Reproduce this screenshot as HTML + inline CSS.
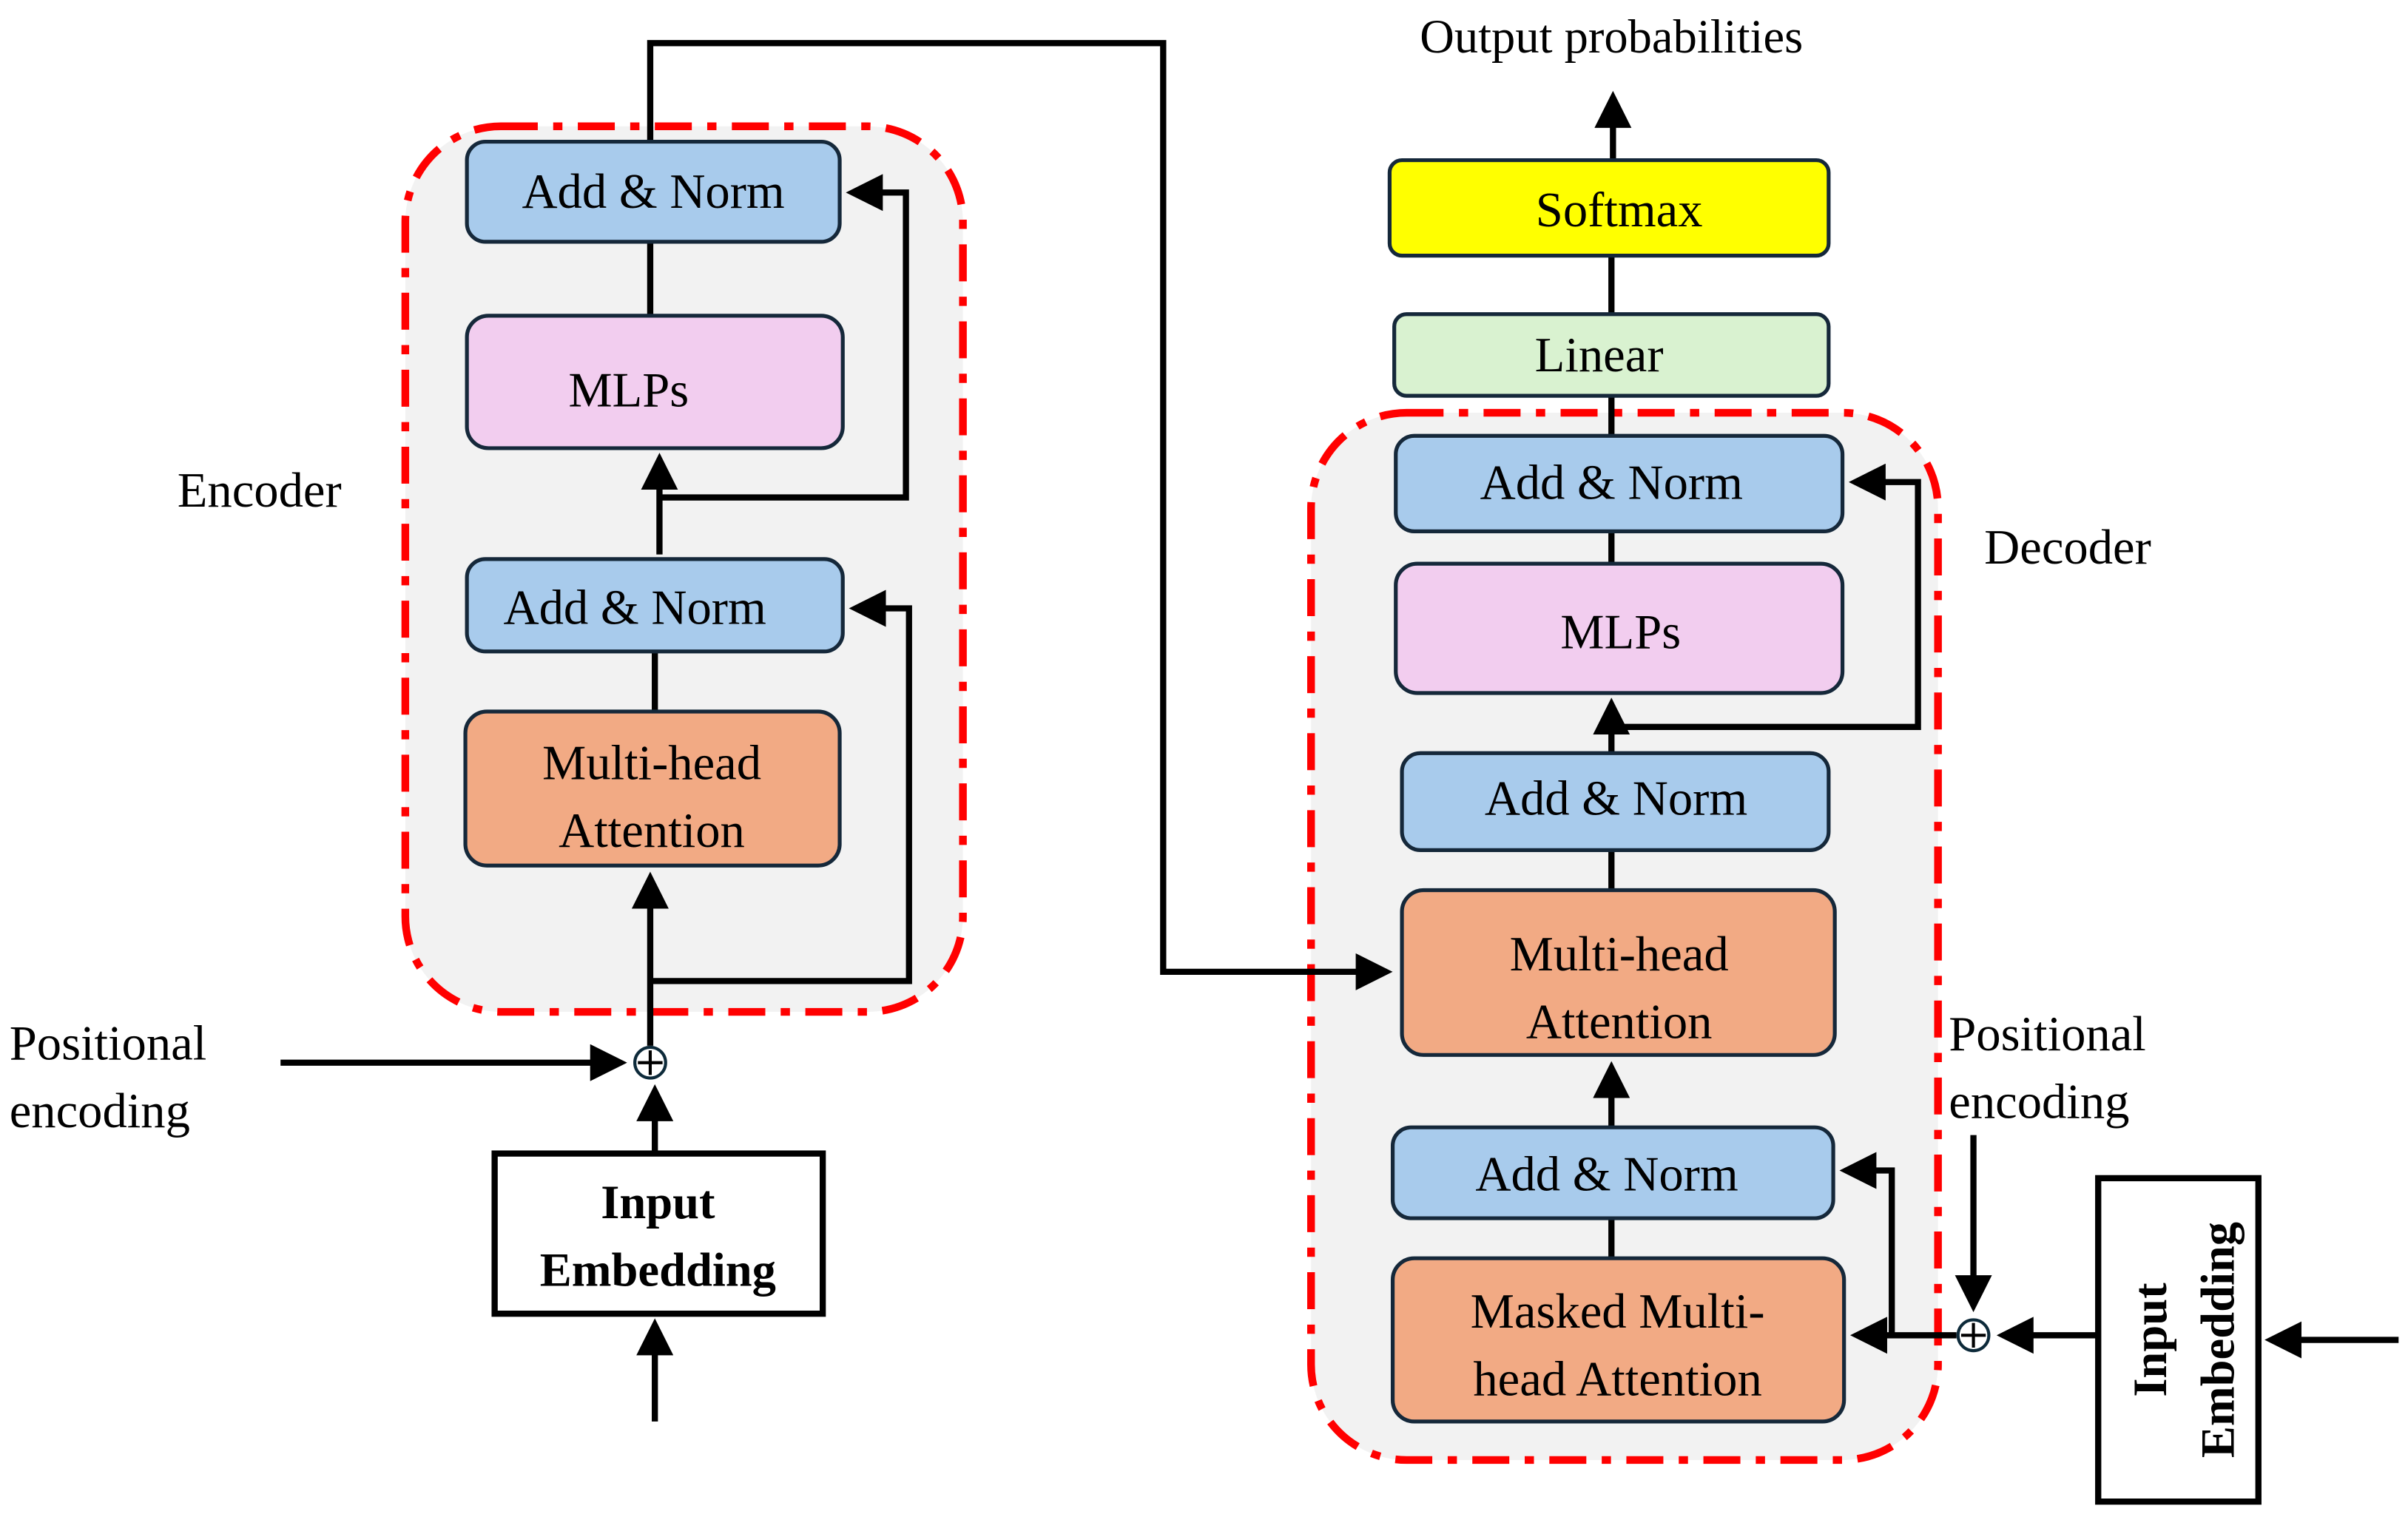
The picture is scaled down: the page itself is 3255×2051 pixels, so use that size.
<!DOCTYPE html>
<html><head><meta charset="utf-8"><style>html,body{margin:0;padding:0;background:#fff}svg{display:block}</style></head>
<body>
<svg width="3255" height="2051" viewBox="0 0 1563 985" xmlns="http://www.w3.org/2000/svg" font-family="'Liberation Serif', serif">
<defs>
<marker id="a" markerWidth="6" markerHeight="6" refX="5" refY="3" orient="auto" markerUnits="strokeWidth">
<path d="M0,0 L6,3 L0,6 Z" fill="#000"/></marker>
</defs>
<rect width="1563" height="985" fill="#fff"/>
<!-- containers -->
<rect x="263" y="82" width="362" height="575" rx="62" fill="#f2f2f2" stroke="#ff0000" stroke-width="5" stroke-dasharray="24,10,6,10"/>
<rect x="851" y="268" width="407" height="680" rx="62" fill="#f2f2f2" stroke="#ff0000" stroke-width="5" stroke-dasharray="24,10,6,10"/>

<g stroke="#000" stroke-width="4" fill="none">
<!-- encoder lines -->
<path d="M422,92 L422,28 L755,28 L755,631 L900,631" marker-end="url(#a)"/>
<path d="M422,157 L422,205"/>
<path d="M428,360 L428,298" marker-end="url(#a)"/>
<path d="M428,323 L588,323 L588,125 L553,125" marker-end="url(#a)"/>
<path d="M425,423 L425,462"/>
<path d="M422,637 L590,637 L590,395 L555,395" marker-end="url(#a)"/>
<path d="M422,679 L422,570" marker-end="url(#a)"/>
<path d="M182,690 L403,690" marker-end="url(#a)"/>
<path d="M425,749 L425,708" marker-end="url(#a)"/>
<path d="M425,923 L425,860" marker-end="url(#a)"/>
<!-- decoder lines -->
<path d="M1047,104 L1047,63" marker-end="url(#a)"/>
<path d="M1046,166 L1046,204"/>
<path d="M1046,257 L1046,283"/>
<path d="M1046,345 L1046,366"/>
<path d="M1046,489 L1046,457" marker-end="url(#a)"/>
<path d="M1046,472 L1245,472 L1245,313 L1204,313" marker-end="url(#a)"/>
<path d="M1046,552 L1046,578"/>
<path d="M1046,732 L1046,693" marker-end="url(#a)"/>
<path d="M1046,791 L1046,817"/>
<path d="M1270,867 L1205,867" marker-end="url(#a)"/>
<path d="M1228,867 L1228,760 L1198,760" marker-end="url(#a)"/>
<path d="M1281,737 L1281,848" marker-end="url(#a)"/>
<path d="M1362,867 L1300,867" marker-end="url(#a)"/>
<path d="M1557,870 L1474,870" marker-end="url(#a)"/>
</g>

<!-- circles -->
<g fill="#fff" stroke="#0d2a3a" stroke-width="2">
<circle cx="422" cy="690" r="10"/><circle cx="1281" cy="867" r="10"/>
</g>
<g stroke="#000" stroke-width="2">
<path d="M414,690 H430 M422,682 V698"/><path d="M1273,867 H1289 M1281,859 V875"/>
</g>

<!-- boxes -->
<g stroke="#15283a" stroke-width="2.5">
<rect x="303" y="92" width="242" height="65" rx="12" fill="#a8cbec"/>
<rect x="303" y="205" width="244" height="86" rx="14" fill="#f2cdef"/>
<rect x="303" y="363" width="244" height="60" rx="12" fill="#a8cbec"/>
<rect x="302" y="462" width="243" height="100" rx="14" fill="#f2aa84"/>
<rect x="902" y="104" width="285" height="62" rx="8" fill="#ffff00"/>
<rect x="905" y="204" width="282" height="53" rx="8" fill="#d9f2d0"/>
<rect x="906" y="283" width="290" height="62" rx="12" fill="#a8cbec"/>
<rect x="906" y="366" width="290" height="84" rx="14" fill="#f2cdef"/>
<rect x="910" y="489" width="277" height="63" rx="12" fill="#a8cbec"/>
<rect x="910" y="578" width="281" height="107" rx="14" fill="#f2aa84"/>
<rect x="904" y="732" width="286" height="59" rx="12" fill="#a8cbec"/>
<rect x="904" y="817" width="293" height="106" rx="14" fill="#f2aa84"/>
</g>
<rect x="321" y="749" width="213" height="104" fill="#fff" stroke="#000" stroke-width="4"/>
<rect x="1362" y="765" width="104" height="210" fill="#fff" stroke="#000" stroke-width="4"/>

<!-- text -->
<g font-size="32" fill="#000" text-anchor="middle">
<text x="424" y="135">Add &amp; Norm</text>
<text x="408" y="264">MLPs</text>
<text x="412" y="405">Add &amp; Norm</text>
<text x="423" y="506">Multi-head</text>
<text x="423" y="550">Attention</text>
<text x="1051" y="147">Softmax</text>
<text x="1038" y="241">Linear</text>
<text x="1046" y="324">Add &amp; Norm</text>
<text x="1052" y="421">MLPs</text>
<text x="1049" y="529">Add &amp; Norm</text>
<text x="1051" y="630">Multi-head</text>
<text x="1051" y="674">Attention</text>
<text x="1043" y="773">Add &amp; Norm</text>
<text x="1050" y="862">Masked Multi-</text>
<text x="1050" y="906">head Attention</text>
<text x="1046" y="34" font-size="31">Output probabilities</text>
</g>
<g font-size="32" fill="#000">
<text x="115" y="329">Encoder</text>
<text x="1288" y="366">Decoder</text>
<text x="6" y="688">Positional</text>
<text x="6" y="732">encoding</text>
<text x="1265" y="682">Positional</text>
<text x="1265" y="726">encoding</text>
</g>
<g font-size="31" font-weight="bold" text-anchor="middle">
<text x="427" y="791">Input</text>
<text x="427" y="835">Embedding</text>
<g transform="translate(1414,870) rotate(-90)">
<text x="0" y="-8">Input</text>
<text x="0" y="36">Embedding</text>
</g>
</g>
</svg>
</body></html>
